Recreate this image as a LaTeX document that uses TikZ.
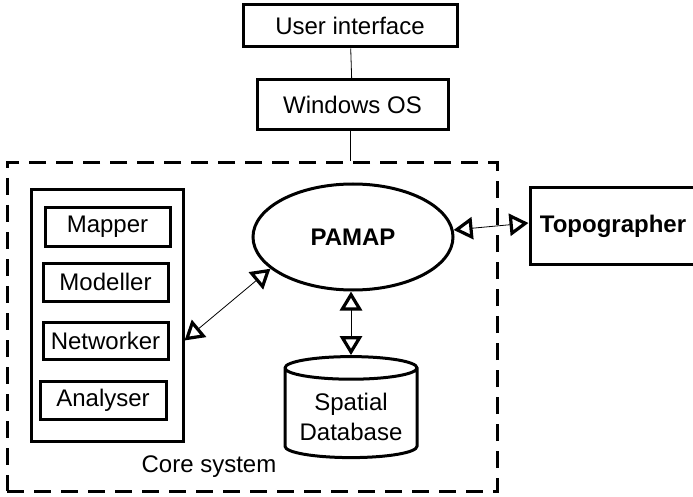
\documentclass[tikz,border=0pt]{standalone}
\usepackage{fontspec}
\setmainfont{Liberation Sans}
\usetikzlibrary{arrows.meta,shapes.geometric,calc}
\begin{document}
\begin{tikzpicture}[x=1pt,y=-1pt,
  every node/.style={font=\fontsize{24}{29}\selectfont},
  box/.style={draw,line width=3pt,inner sep=0pt},
  link/.style={line width=0.8pt},
  biarrow/.style={line width=0.8pt,
    {Triangle[open,length=19pt,width=22pt,line width=3.2pt 0]}-{Triangle[open,length=19pt,width=22pt,line width=3.2pt 0]}},
  dashframe/.style={draw,line width=3pt,dash pattern=on 17pt off 10pt}
]
\useasboundingbox (0,0) rectangle (693,497);
\fill[white] (0,0) rectangle (693,497);
% top boxes
\node[box,minimum width=214pt,minimum height=42pt] (ui) at (350,26) {User interface};
\node[box,minimum width=191pt,minimum height=50pt] (win) at (352.5,105) {Windows OS};
% core frame
\node[dashframe,minimum width=490pt,minimum height=328pt,inner sep=0pt] (frame) at (252,327) {};
\node (corelbl) at (209,467) {Core system};
% tool column
\node[box,minimum width=152pt,minimum height=251pt] (tools) at (107,315.5) {};
\node[box,minimum width=125pt,minimum height=38pt] (map) at (107.5,227) {Mapper};
\node[box,minimum width=125pt,minimum height=38pt] (mod) at (105.5,282) {Modeller};
\node[box,minimum width=125pt,minimum height=37pt] (net) at (105.5,340.5) {Networker};
\node[box,minimum width=126pt,minimum height=38pt] (ana) at (103,400) {Analyser};
% PAMAP
\node[box,ellipse,minimum width=200pt,minimum height=106pt,font=\fontsize{24}{29}\selectfont\bfseries] (pam) at (353,237) {PAMAP};
% database
\node[draw,line width=3pt,cylinder,shape border rotate=90,aspect=0.22,
  minimum width=132pt,minimum height=101pt,inner sep=0pt,
  font=\fontsize{24}{31}\selectfont] (db) at (351,413.5)
  {\raisebox{-6pt}[\height][\depth]{\begin{tabular}{@{}c@{}}Spatial\\[-1pt]Database\end{tabular}}};
% topographer
\node[box,minimum width=166pt,minimum height=76pt,font=\fontsize{24}{29}\selectfont\bfseries] (topo) at (613,226) {Topographer};
% connectors
\draw[link] (ui) -- (win);
\draw[link] (win.south -| ui) -- (frame.north -| ui);
\draw[biarrow] (tools.east |- net) -- (pam.201);
\draw[biarrow] (pam.south -| db.north) -- (db.north);
\draw[biarrow] (pam.4) -- ($(topo.west)+(0,-3)$);
\end{tikzpicture}
\end{document}
